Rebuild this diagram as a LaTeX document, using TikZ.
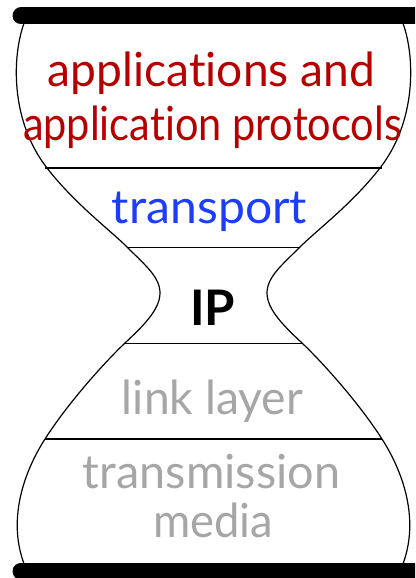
\documentclass[tikz,border=0pt]{standalone}
\usepackage{graphicx}
\usepackage{fontspec}
\setmainfont{Lato}[Ligatures={NoCommon,NoContextual}]
\definecolor{appred}{RGB}{182,0,0}
\definecolor{trblue}{RGB}{28,60,255}
\definecolor{lowgray}{RGB}{166,166,166}
\tikzset{
  outline/.style={line width=1.2pt, black},
  thickrule/.style={line width=2pt, black},
  thinrule/.style={line width=1pt, black},
  bar/.style={line width=17pt, line cap=round, black},
  layertext/.style={anchor=base, inner sep=0pt, font=\fontsize{47}{52}\selectfont},
}
% set a label at its natural height, squeezed to a given width
\newcommand{\fitwidth}[2]{\resizebox{#1}{\height}{#2}}
% left half of the hourglass, from the top bar down to the bottom bar
\newcommand{\hgside}{(27,16) .. controls (12,48) and (8,118) .. (47,168)
  .. controls (75,204) and (110,230) .. (127,247)
  .. controls (145,265) and (160,277) .. (160,293)
  .. controls (160,310) and (142,327) .. (125,343)
  .. controls (108,359) and (70,400) .. (45,439)
  .. controls (22,475) and (6,525) .. (27,571)}
\begin{document}
\begin{tikzpicture}[x=1pt,y=-1pt]
\useasboundingbox (0,0) rectangle (415,578);
\clip (0,0) rectangle (415,578);
% hourglass outline, left half and its mirror image
\draw[outline] \hgside;
\begin{scope}[xshift=427pt, xscale=-1]
  \draw[outline] \hgside;
\end{scope}
% layer boundaries
\draw[thickrule] (45,168) -- (382,168);
\draw[thinrule] (127,247) -- (300,247);
\draw[thinrule] (125,343) -- (302,343);
\draw[thickrule] (45,439) -- (382,439);
% top and bottom bars
\draw[bar] (21,16) -- (440,16);
\draw[bar] (21,571) -- (440,571);
% layer labels
\node[layertext, text=appred] (app1) at (211.5,87) {\fitwidth{327pt}{applications and}};
\node[layertext, text=appred] (app2) at (212.5,140) {\fitwidth{379pt}{application protocols}};
\node[layertext, text=trblue] (tr) at (209.5,223) {\fitwidth{195pt}{transport}};
\node[layertext, font=\fontsize{49}{52}\selectfont\bfseries] (ip) at (212.5,325) {\fitwidth{45pt}{IP}};
\node[layertext, text=lowgray] (link) at (212.5,414) {\fitwidth{181pt}{link layer}};
\node[layertext, text=lowgray] (tm1) at (211.5,488) {\fitwidth{257pt}{transmission}};
\node[layertext, text=lowgray] (tm2) at (213,537) {\fitwidth{120pt}{media}};
\end{tikzpicture}
\end{document}
